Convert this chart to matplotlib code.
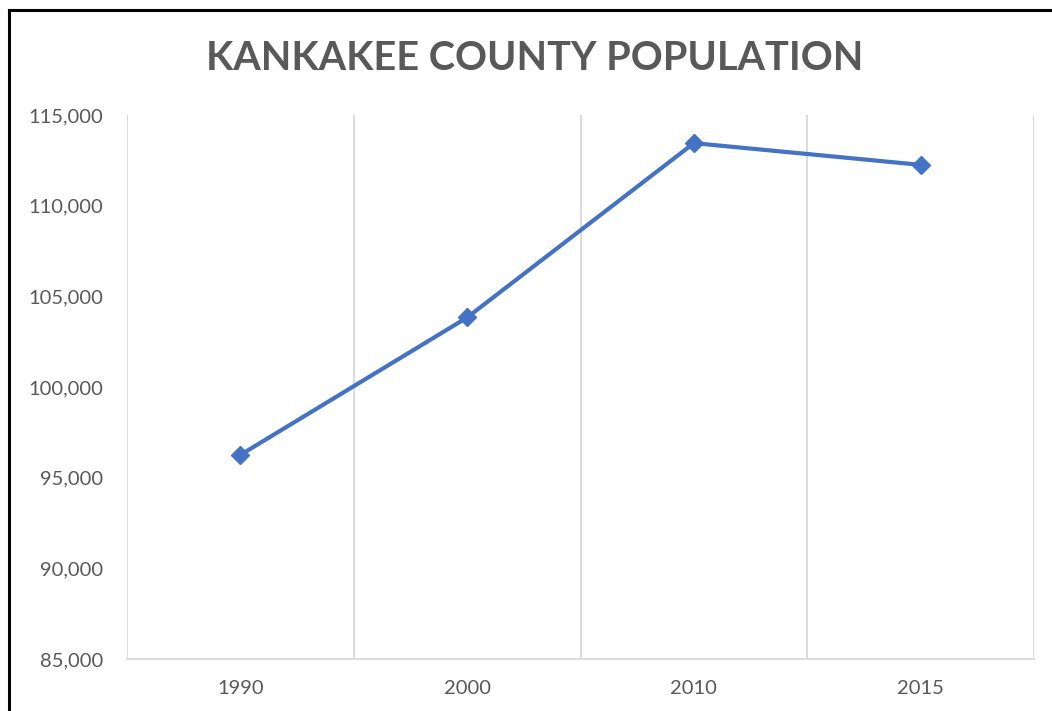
import matplotlib
matplotlib.use("Agg")
import matplotlib.pyplot as plt
from matplotlib.lines import Line2D
from matplotlib.ticker import FuncFormatter, FixedLocator

years = ["1990", "2000", "2010", "2015"]
population = [96255, 103833, 113449, 112250]
yticks = [85000, 90000, 95000, 100000, 105000, 110000, 115000]
title = "KANKAKEE COUNTY POPULATION"

plt.rcParams['font.family'] = ['Lato', 'DejaVu Sans']
grey = "#595959"

fig = plt.figure(figsize=(10.52, 7.11), dpi=100)
ax = fig.add_axes([127/1052, 1-659/711, (1034-127)/1052, (659-115)/711])

x = list(range(len(years)))
ax.plot(x, population, color="#4472C4", linewidth=3, marker="D", markersize=9,
        markerfacecolor="#4472C4", markeredgecolor="#4472C4", zorder=3)

ax.set_xlim(-0.5, len(years) - 0.5)
ax.set_ylim(85000, 115000)
ax.set_yticks(yticks)
ax.yaxis.set_major_formatter(FuncFormatter(lambda v, p: f"{int(v):,}"))
ax.set_xticks(x)
ax.set_xticklabels(years)
ax.xaxis.set_minor_locator(FixedLocator([i - 0.5 for i in range(len(years) + 1)]))
ax.grid(False)
ax.grid(True, which="minor", axis="x", color="#d9d9d9", linewidth=1.3)
ax.tick_params(axis="both", which="both", length=0, colors=grey, labelsize=14.5)
ax.tick_params(axis="x", pad=15)
ax.tick_params(axis="y", pad=17)
for lab in ax.get_xticklabels():
    lab.set_fontsize(14.5)
for s in ["left", "right", "top"]:
    ax.spines[s].set_visible(False)
ax.spines["bottom"].set_color("#d9d9d9")
ax.spines["bottom"].set_linewidth(1.3)

fig.text(535/1052, 1-58/711, title, ha="center", va="center", fontsize=28.5,
         fontweight="bold", color=grey)

# frame lines (left and top)
fig.add_artist(Line2D([8.5/1052, 8.5/1052], [0, 1-9.5/711], transform=fig.transFigure,
                      color="black", linewidth=2.2, solid_capstyle="projecting"))
fig.add_artist(Line2D([8.5/1052, 1], [1-9.5/711, 1-9.5/711], transform=fig.transFigure,
                      color="black", linewidth=2.2, solid_capstyle="projecting"))

fig.savefig("out.png", dpi=100)
